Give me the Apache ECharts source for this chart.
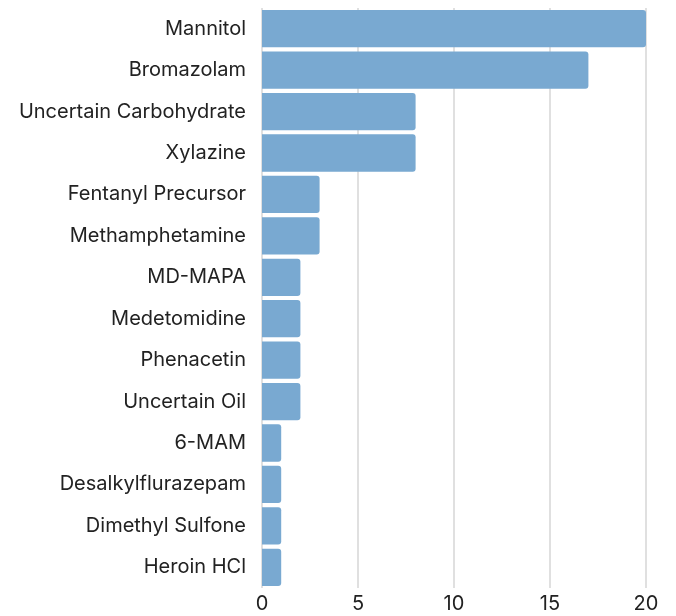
<!DOCTYPE html>
<html><head><meta charset="utf-8">
<script src="https://cdn.jsdelivr.net/npm/echarts@6/dist/echarts.min.js"></script>
<style>html,body{margin:0;padding:0;background:#fff}#c{width:676px;height:616px}</style>
</head><body><div id="c"></div>
<script>
const categories = ["Mannitol","Bromazolam","Uncertain Carbohydrate","Xylazine","Fentanyl Precursor","Methamphetamine","MD-MAPA","Medetomidine","Phenacetin","Uncertain Oil","6-MAM","Desalkylflurazepam","Dimethyl Sulfone","Heroin HCl"];
const counts = [20,17,8,8,3,3,2,2,2,2,1,1,1,1];
const xTicks = [0,5,10,15,20];
const chart = echarts.init(document.getElementById('c'), null, {renderer:'canvas'});
chart.setOption({
  animation:false,
  grid:{left:262,right:30,top:8,bottom:28,containLabel:false},
  xAxis:{type:'value',min:0,max:20,interval:5,
    axisLine:{show:false},axisTick:{show:false},
    splitLine:{lineStyle:{color:'#d6d6d6',width:1.5}},
    axisLabel:{fontFamily:'Inter',fontSize:20,color:'#222',margin:6,
      formatter:v=>xTicks.includes(v)?String(v):''}},
  yAxis:{type:'category',data:categories,inverse:true,
    axisLine:{show:false},axisTick:{show:false},
    axisLabel:{fontFamily:'Inter',fontSize:20,color:'#222',margin:16}},
  series:[{type:'bar',data:counts,barCategoryGap:'10%',
    itemStyle:{color:'#79a9d1',borderRadius:[0,3,3,0]}}]
});
</script></body></html>
